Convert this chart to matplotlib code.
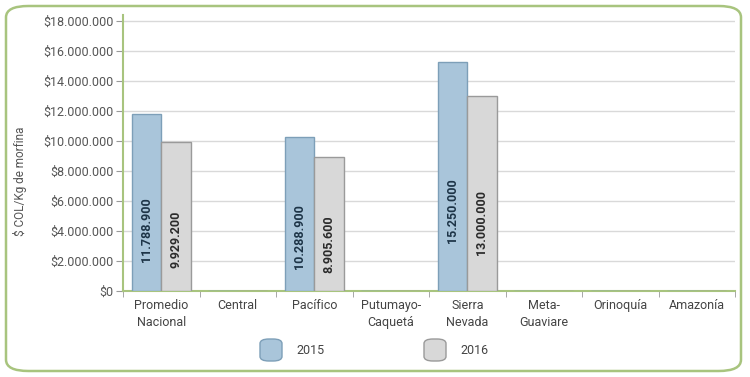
import numpy as np
import matplotlib.pyplot as plt
from matplotlib.patches import FancyBboxPatch

plt.rcParams['font.family'] = ['Roboto', 'DejaVu Sans']

regiones = ["Promedio\nNacional", "Central", "Pacífico", "Putumayo-\nCaquetá",
            "Sierra\nNevada", "Meta-\nGuaviare", "Orinoquía", "Amazonía"]
v2015 = [11788900, 0, 10288900, 0, 15250000, 0, 0, 0]
v2016 = [9929200, 0, 8905600, 0, 13000000, 0, 0, 0]
etiquetas_2015 = ["11.788.900", "", "10.288.900", "", "15.250.000", "", "", ""]
etiquetas_2016 = ["9.929.200", "", "8.905.600", "", "13.000.000", "", "", ""]
yticks = np.arange(0, 18000001, 2000000)

azul = "#a9c5da"
azul_borde = "#7d9fb8"
gris = "#d8d8d8"
gris_borde = "#9a9a9a"
verde = "#a8c47e"

fig = plt.figure(figsize=(7.5, 3.77), dpi=100)
ax = fig.add_axes([0.164, 0.228, 0.816, 0.732])

x = np.arange(len(regiones))
w = 0.385
b1 = ax.bar(x - w / 2, v2015, w, color=azul, edgecolor=azul_borde, linewidth=1, zorder=3)
b2 = ax.bar(x + w / 2, v2016, w, color=gris, edgecolor=gris_borde, linewidth=1, zorder=3)

for i in range(len(regiones)):
    if etiquetas_2015[i]:
        ax.text(x[i] - w / 2, v2015[i] * 0.35, etiquetas_2015[i], rotation=90,
                ha="center", va="center", fontsize=9, fontweight="bold", color="#1d3447", zorder=4)
    if etiquetas_2016[i]:
        ax.text(x[i] + w / 2, v2016[i] * 0.35, etiquetas_2016[i], rotation=90,
                ha="center", va="center", fontsize=9, fontweight="bold", color="#2b2b2b", zorder=4)

ax.set_xlim(-0.5, len(regiones) - 0.5)
ax.set_ylim(0, 18400000)
ax.set_yticks(yticks)
ax.set_yticklabels(["$" + f"{int(t):,}".replace(",", ".") for t in yticks])
ax.yaxis.grid(True, color="#d9d9d9", linewidth=1, zorder=0)
ax.set_xticks(x)
ax.set_xticklabels(regiones, fontsize=9, color="#444444", linespacing=1.35)
ax.tick_params(axis="x", length=0, pad=6)
ax.set_xticks(np.arange(-0.5, len(regiones)), minor=True)
ax.tick_params(axis="x", which="minor", length=4, color="#999999")
ax.tick_params(axis="y", length=5, color="#999999", labelsize=9, labelcolor="#555555", pad=2)

for s in ["top", "right"]:
    ax.spines[s].set_visible(False)
ax.spines["left"].set_color(verde)
ax.spines["bottom"].set_color(verde)
ax.spines["left"].set_linewidth(1.5)
ax.spines["bottom"].set_linewidth(1.5)

fig.text(0.027, 0.52, "$ COL/Kg de morfina", rotation=90, ha="center", va="center",
         fontsize=8.5, color="#555555")

# legend
for px, lab, fc, ec in [(260, "2015", azul, azul_borde), (424, "2016", gris, gris_borde)]:
    fig.add_artist(FancyBboxPatch((px / 750, (377 - 361) / 377), 22 / 750, 22 / 377,
                                  boxstyle="round,pad=0,rounding_size=0.012",
                                  transform=fig.transFigure, facecolor=fc, edgecolor=ec, linewidth=1))
    fig.text((px + 36) / 750, (377 - 350) / 377, lab, ha="left", va="center",
             fontsize=9, color="#444444")

# outer frame
fig.add_artist(FancyBboxPatch((6 / 750, 6 / 377), 735 / 750, 365 / 377,
                              boxstyle="round,pad=0,rounding_size=0.03",
                              transform=fig.transFigure, facecolor="none",
                              edgecolor=verde, linewidth=1.8))

fig.savefig("out.png", dpi=100)
